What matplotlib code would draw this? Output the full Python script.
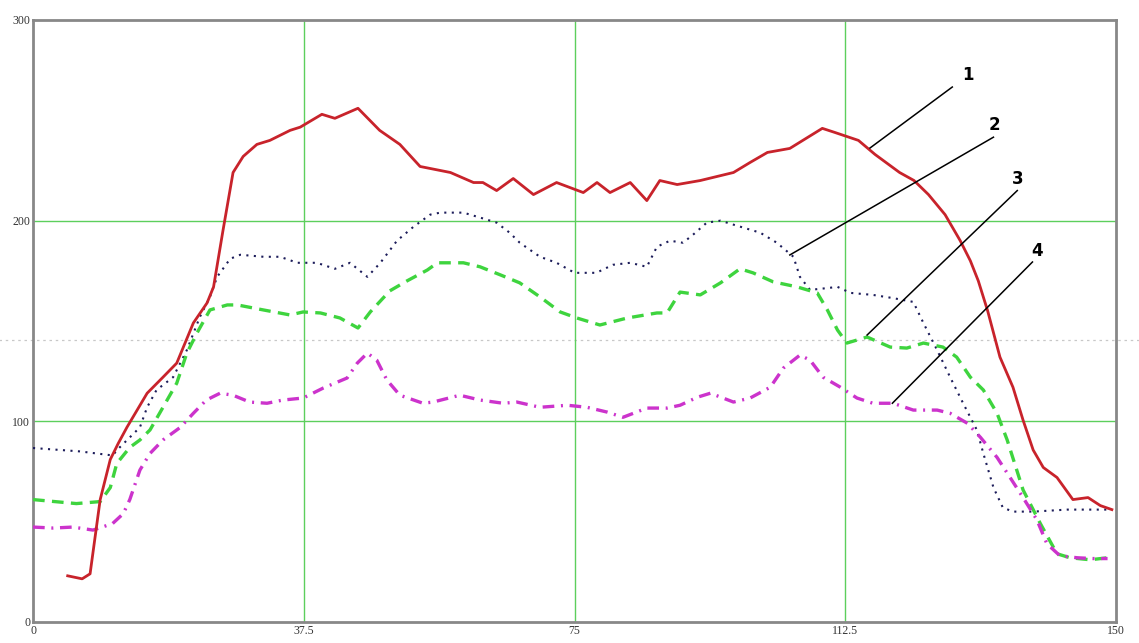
import matplotlib
matplotlib.use("Agg")
import matplotlib.pyplot as plt

# curve 1 (solid red)
x1 = [4.8, 6.8, 7.9, 9.3, 10.7, 11.8, 13, 15.8, 18, 19.9, 22.2, 24.1, 25, 26.3, 27.7, 29.1,
      31, 32.8, 35.6, 37, 40, 41.8, 45, 48, 50.8, 53.6, 57.8, 61, 62.3, 64.2, 66.5, 69.3,
      72.5, 76.2, 78.1, 79.9, 82.7, 85, 86.8, 89.2, 92.4, 97, 99.3, 101.7, 104.8, 109.3,
      111, 114.3, 116.6, 120, 122, 124, 126.3, 128.4, 129.8, 130.9, 132.2, 133.9, 135.7,
      137.1, 138.5, 139.9, 141.8, 144, 146.1, 147.8, 149.4]
y1 = [23, 21.5, 24, 61, 81, 89, 97, 114, 122, 129, 149, 159, 167, 195, 224, 232,
      238, 240, 245, 246.6, 253, 251, 256, 245, 238, 227, 224, 219, 219, 215, 221, 213,
      219, 214, 219, 214, 219, 210, 220, 218, 220, 224, 229, 234, 236, 246,
      244, 240, 233, 224, 220, 213, 203, 190, 180, 170, 155, 132, 117,
      100.6, 85.7, 77, 72, 61, 62, 58, 56]

# curve 2 (dotted navy)
x2 = [0, 6.5, 11, 12, 14.8, 15.8, 17.1, 19.4, 21.3, 23.1, 24.5, 25.5, 27.3, 28.7, 31.9,
      34.2, 36.6, 39.3, 41.8, 43.9, 46.3, 48.1, 50.4, 52.7, 55, 56.4, 59.6, 62.4, 64.2,
      66, 67.4, 70.2, 72.5, 75, 78, 80.3, 82.7, 85, 86.4, 88.2, 90, 91.4, 93.3, 95.2, 97,
      100.7, 103, 105.3, 106.2, 107.6, 110, 111.4, 113.2, 116.3, 119.1, 121.9, 123.3,
      125.2, 127, 128.8, 130.7, 131.6, 133, 134.3, 135.7, 138.5, 143.2, 147.8, 149.4]
y2 = [86.7, 85, 83, 87, 97, 107, 115.6, 122, 135.5, 152, 162, 172, 181, 183, 182,
      182, 179, 179, 176, 179, 172, 179, 190, 197, 203, 204, 204, 201, 199,
      194, 189, 182, 179, 174, 174, 178, 179, 177, 187, 190, 189, 193, 199, 200, 198,
      194, 189, 182, 172, 165.5, 166.4, 167, 164, 163, 161.4, 159.5, 149,
      135.5, 122, 109, 95.7, 84, 67, 57, 55, 55, 56, 56, 56]

# curve 3 (dashed green)
x3 = [0, 6, 9.3, 10.7, 11.6, 13.4, 14.8, 16.2, 18, 19.9, 21.3, 22.7, 24.5, 26.9, 28.3,
      31.9, 35.6, 37.4, 39.8, 42.5, 45, 46.7, 49.4, 51.8, 54.6, 56, 59.6, 61.9, 64.7,
      67.4, 70.2, 73, 75.3, 78.5, 82.3, 86.4, 87.8, 89.6, 92.4, 95.2, 97.9, 99.7, 102.5,
      105.8, 108.6, 110, 111.4, 112.7, 115.5, 118.7, 121, 123.3, 126, 127.9, 129.8,
      131.6, 133.5, 134.9, 137.1, 139.5, 141.8, 143.6, 146.4, 148.8]
y3 = [61, 59, 60, 67, 79, 87, 90.7, 95.7, 107, 119, 134, 144, 155.5, 158, 158,
      155.5, 153, 154.5, 154, 151.5, 146.5, 154.5, 165, 170, 175.4, 179, 179, 177, 173,
      169, 162, 154.5, 151.5, 148, 151.5, 154, 154, 164.4, 163, 169, 176, 174, 169.5,
      167, 164, 155.5, 145.5, 139, 142, 137, 136.5, 139, 137, 132, 122,
      115.6, 104, 90.7, 65.8, 49, 34, 32, 31, 32]

# curve 4 (dash-dot magenta)
x4 = [0, 2.8, 5.5, 8.3, 11, 12.5, 13.4, 14.8, 16.2, 18, 20.4, 22.2, 24, 25.9, 27.7, 30,
      32.4, 34.6, 37.4, 40.2, 43.5, 44.9, 46.3, 47.6, 49, 50.8, 54, 55.4, 59.1, 61.9,
      65.1, 67, 70.2, 74, 76.7, 79.5, 81.7, 85, 87.8, 89.6, 92, 93.8, 97, 99.3, 102.1,
      103.9, 106.2, 107.6, 109.4, 111.8, 114.1, 116.3, 119.1, 121.9, 125.2, 127, 129.4,
      131.2, 133.5, 135.3, 137.1, 139, 140.4, 142.2, 144.6, 146.8, 148.8]
y4 = [47.3, 46.8, 47.3, 45.8, 49, 54, 61, 75.7, 84, 90.7, 97, 104, 110.6, 114, 113, 109.6,
      109, 110.6, 111.6, 116.6, 121.6, 129, 134, 130.5, 120.6, 113, 109, 109.6, 113, 110.6,
      109, 109.6, 107, 108, 107, 104.6, 102, 106.6, 106.6, 108, 112, 114, 109.6, 111.6, 117,
      126.5, 133, 130.5, 122, 117, 111.6, 109, 109, 105.6, 105.6, 104, 99,
      92, 82, 72, 62, 51, 39, 33, 32, 31.6, 31.6]

# callout labels: text position and leader line ends
labels = ["1", "2", "3", "4"]
label_xy = [(129.5, 272.5), (133.2, 247.6), (136.4, 221), (139.0, 185)]
leader_from = [(127.3, 266.6), (133.0, 241.6), (136.3, 215), (138.4, 179.4)]
leader_to = [(115.9, 236.2), (104.8, 182.9), (115.5, 143), (119.0, 109)]

ref_level = 140.5
xticks = [0, 37.5, 75, 112.5, 150]
xtick_labels = ["0", "37.5", "75", "112.5", "150"]
yticks = [0, 100, 200, 300]

fig = plt.figure(figsize=(11.39, 6.43), dpi=100)
ax = fig.add_axes([0.029, 0.0327, 0.951, 0.9362])

ax.set_xlim(0, 150)
ax.set_ylim(0, 300)

# grid
for gx in [37.5, 75, 112.5]:
    ax.axvline(gx, color="#5ccf5c", lw=1.0, zorder=1)
for gy in [100, 200]:
    ax.axhline(gy, color="#5ccf5c", lw=1.0, zorder=1)
ax.axhline(ref_level, xmin=-0.035, xmax=1.03, clip_on=False,
           color="#c8c8c8", lw=0.9, ls=(0, (2, 3)), zorder=0.5)

ax.plot(x1, y1, color="#c8232b", lw=2.0, zorder=5)
ax.plot(x2, y2, color="#1c1c5a", lw=1.5, ls=(0, (1, 2.6)), zorder=4)
ax.plot(x3, y3, color="#3ed43e", lw=2.4, ls=(0, (3.5, 2.2)), zorder=4)
ax.plot(x4, y4, color="#cc33cc", lw=2.4, ls=(0, (3.5, 2.0, 0.6, 2.0)), zorder=4)

for lab, (tx, ty), (ax0, ay0), (ax1, ay1) in zip(labels, label_xy, leader_from, leader_to):
    ax.plot([ax0, ax1], [ay0, ay1], color="black", lw=1.1, zorder=6)
    ax.text(tx, ty, lab, fontsize=12, fontweight="bold", family="DejaVu Sans",
            ha="center", va="center")

ax.set_xticks(xticks)
ax.set_xticklabels(xtick_labels)
ax.set_yticks(yticks)
ax.tick_params(length=0, labelsize=8.5, pad=2, colors="#333333")
for t in ax.get_xticklabels() + ax.get_yticklabels():
    t.set_family("Liberation Serif")
for s in ax.spines.values():
    s.set_color("#888888")
    s.set_linewidth(2.0)

fig.savefig("out.png", dpi=100)
